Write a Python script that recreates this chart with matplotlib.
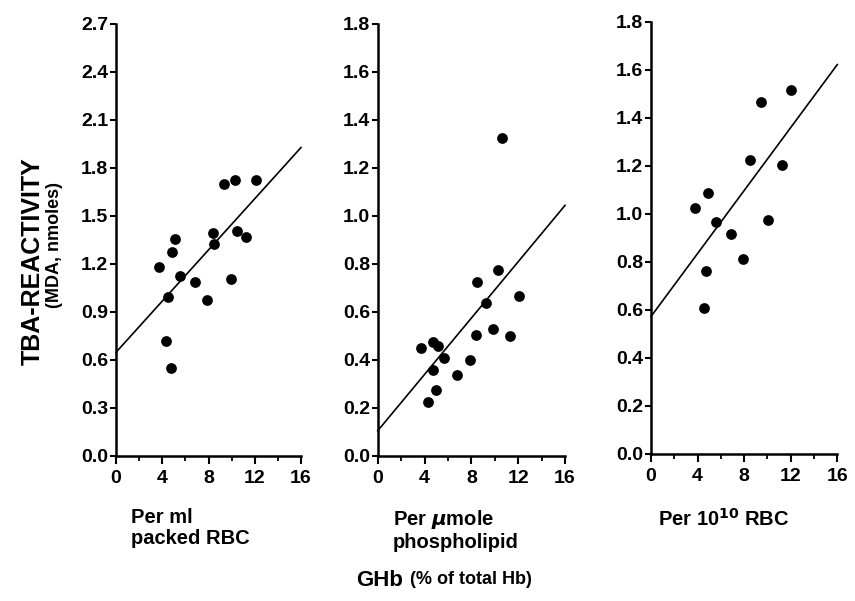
import numpy as np
import matplotlib.pyplot as plt
from matplotlib.ticker import MultipleLocator

plt.rcParams['font.family'] = ['Liberation Sans', 'DejaVu Sans']
plt.rcParams['font.weight'] = 'bold'

# Per ml packed RBC
ml_x = [3.75, 4.53, 4.33, 4.76, 4.82, 5.10, 5.56, 6.83, 7.84, 8.36, 8.48, 9.37, 10.27, 9.92, 10.44, 11.25, 12.08]
ml_y = [1.18, 0.995, 0.717, 0.547, 1.273, 1.356, 1.126, 1.09, 0.976, 1.391, 1.327, 1.70, 1.723, 1.109, 1.405, 1.368, 1.723]

# Per umole phospholipid
pl_x = [3.70, 4.33, 4.70, 4.75, 5.13, 4.96, 5.67, 6.75, 7.89, 8.40, 8.46, 9.23, 9.88, 10.26, 10.62, 11.31, 12.08]
pl_y = [0.449, 0.226, 0.357, 0.476, 0.457, 0.274, 0.408, 0.338, 0.399, 0.504, 0.726, 0.637, 0.528, 0.776, 1.325, 0.501, 0.668]

# Per 10^10 RBC
rbc_x = [3.78, 4.58, 4.72, 4.92, 5.58, 6.87, 7.93, 8.50, 9.42, 10.02, 11.24, 12.04]
rbc_y = [1.027, 0.608, 0.762, 1.087, 0.965, 0.917, 0.813, 1.226, 1.467, 0.975, 1.204, 1.516]

# fitted lines (intercept, slope)
fits = [(0.648, 0.0800), (0.105, 0.0587), (0.573, 0.0656)]

panels = [
    (ml_x, ml_y, 2.7, 0.3, 'Per ml\npacked RBC'),
    (pl_x, pl_y, 1.8, 0.2, 'Per $\\mu$mole\nphospholipid'),
    (rbc_x, rbc_y, 1.8, 0.2, 'Per 10$^{10}$ RBC'),
]

# axes boxes in pixels: left, right, bottom(y px), top(y px), label x
boxes = [(116, 301, 456, 24, 131), (377.7, 565, 456, 24, 393), (651, 837.3, 454, 22, 658)]
W, H = 855, 601

fig = plt.figure(figsize=(8.55, 6.01), dpi=100)

for (xs, ys, ymax, ystep, label), (l, r, b, t, lab_x), (a0, a1) in zip(panels, boxes, fits):
    ax = fig.add_axes([l / W, (H - b) / H, (r - l) / W, (b - t) / H])
    ax.scatter(xs, ys, s=60, color='black', zorder=3, clip_on=False, linewidths=0)
    lx = np.array([0, 16])
    ax.plot(lx, a0 + a1 * lx, color='black', lw=1.2, clip_on=False)
    ax.set_xlim(0, 16)
    ax.set_ylim(0, ymax)
    ax.xaxis.set_major_locator(MultipleLocator(4))
    ax.xaxis.set_minor_locator(MultipleLocator(2))
    ax.set_yticks(np.round(np.arange(0, ymax + 0.001, ystep), 2))
    ax.yaxis.set_major_formatter(plt.FormatStrFormatter('%.1f'))
    for s in ['top', 'right']:
        ax.spines[s].set_visible(False)
    for s in ['left', 'bottom']:
        ax.spines[s].set_linewidth(1.8)
    ax.tick_params(axis='y', which='major', direction='out', length=4, width=1.5,
                   labelsize=14, pad=1.5)
    ax.tick_params(axis='x', which='major', direction='out', length=6, width=1.5,
                   labelsize=14, pad=4)
    ax.tick_params(axis='x', which='minor', direction='out', length=3.5, width=1.3)
    for tl in ax.get_xticklabels() + ax.get_yticklabels():
        tl.set_fontweight('bold')
    fig.text(lab_x / W, (H - 508) / H, label, fontsize=14.5, fontweight='bold',
             ha='left', va='top', linespacing=1.1)

fig.text(40 / W, (H - 261) / H, 'TBA-REACTIVITY', rotation=90, fontsize=18,
         fontweight='bold', ha='center', va='baseline', rotation_mode='anchor')
fig.text(59 / W, (H - 245) / H, '(MDA, nmoles)', rotation=90, fontsize=13,
         fontweight='bold', ha='center', va='baseline', rotation_mode='anchor')
fig.text(356 / W, (H - 580) / H, 'GHb', fontsize=16, fontweight='bold', ha='left', va='center')
fig.text(410 / W, (H - 580) / H, '(% of total Hb)', fontsize=13, fontweight='bold',
         ha='left', va='center')

fig.savefig('out.png', dpi=100)
